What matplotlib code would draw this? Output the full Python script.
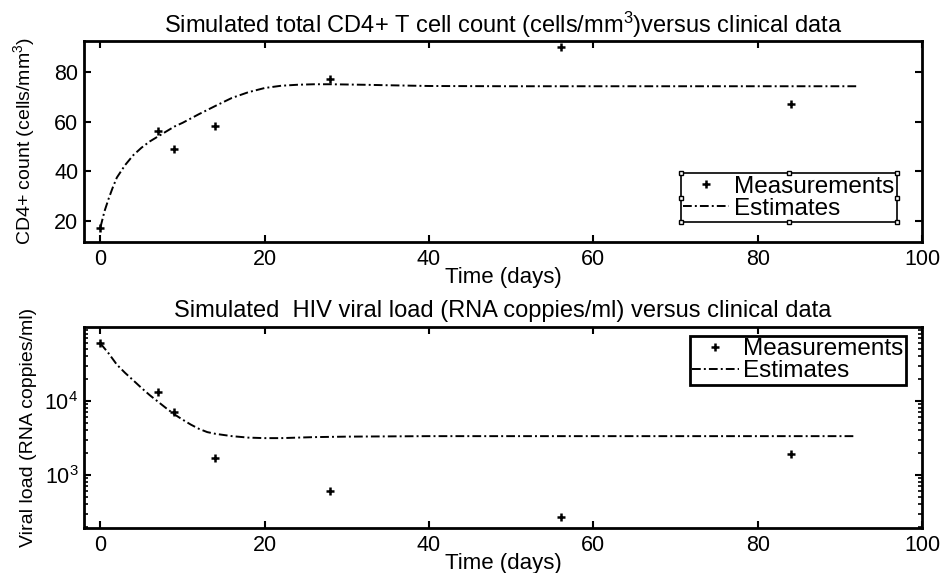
import numpy as np
import matplotlib
matplotlib.use('Agg')
import matplotlib.pyplot as plt
from matplotlib.lines import Line2D

# clinical measurements
meas_days = [0, 7, 9, 14, 28, 56, 84]
cd4_meas = [17.1, 56.4, 48.9, 58.4, 77.2, 89.9, 66.9]
vl_meas = [6.0e4, 1.31e4, 7.0e3, 1.71e3, 602, 268, 1.9e3]

# simulated estimates
cd4_days = [0, 0.5, 1, 1.5, 2, 3, 4, 5, 6, 7, 8, 9, 10, 12, 14, 16, 18, 20,
            22, 24, 26, 28, 30, 32, 35, 40, 50, 60, 70, 80, 92]
cd4_est = [17.5, 24, 29, 33.5, 37.5, 42.5, 46.5, 49.5, 52, 54, 56, 58, 59.5,
           63, 66.3, 69.5, 71.8, 73.5, 74.4, 74.8, 75, 75, 74.9, 74.8, 74.6,
           74.3, 74.2, 74.2, 74.2, 74.2, 74.2]
vl_days = [0, 1, 2, 3, 4, 5, 6, 7, 8, 9, 10, 11, 12, 13, 14, 16, 18, 20, 22,
           24, 26, 30, 40, 60, 80, 92]
vl_est = [6.0e4, 4.4e4, 3.1e4, 2.4e4, 1.9e4, 1.5e4, 1.2e4, 9.8e3, 8.0e3,
          6.6e3, 5.6e3, 4.8e3, 4.2e3, 3.8e3, 3.6e3, 3.35e3, 3.2e3, 3.15e3,
          3.15e3, 3.2e3, 3.25e3, 3.3e3, 3.35e3, 3.35e3, 3.35e3, 3.35e3]

xticks = [0, 20, 40, 60, 80, 100]

plt.rcParams.update({
    'font.family': ['Liberation Sans', 'DejaVu Sans'],
    'mathtext.fontset': 'custom',
    'mathtext.rm': 'Liberation Sans',
    'mathtext.it': 'Liberation Sans',
    'mathtext.bf': 'Liberation Sans',
    'axes.linewidth': 2,
})

fig = plt.figure(figsize=(9.47, 5.73), dpi=100)
ax1 = fig.add_axes([0.0887, 0.5777, 0.8849, 0.3508])
ax2 = fig.add_axes([0.0887, 0.0785, 0.8849, 0.3508])

line_kw = dict(color='black', linewidth=1.4, dashes=(4.5, 1.6, 1, 1.6))
mark_kw = dict(color='black', linestyle='none', marker='+', markersize=6,
               markeredgewidth=1.8)

ax1.plot(meas_days, cd4_meas, label='Measurements', **mark_kw)
ax1.plot(cd4_days, cd4_est, label='Estimates', **line_kw)
ax2.semilogy(meas_days, vl_meas, label='Measurements', **mark_kw)
ax2.semilogy(vl_days, vl_est, label='Estimates', **line_kw)

ax1.set_xlim(-2, 100)
ax1.set_ylim(11.6, 92.4)
ax1.set_yticks([20, 40, 60, 80])
ax2.set_xlim(-2, 100)
ax2.set_ylim(192, 1e5)
ax2.set_yticks([1e3, 1e4])

for ax in (ax1, ax2):
    ax.set_xticks(xticks)
    ax.tick_params(which='major', direction='in', top=True, right=True,
                   length=5, width=1.5, labelsize=15.5)
    ax.tick_params(which='minor', direction='in', top=True, right=True,
                   length=3, width=1.2)
    ax.tick_params(axis='x', pad=5)
    ax.tick_params(axis='y', pad=4)
    ax.set_xlabel('Time (days)', fontsize=16, labelpad=-2)
    ax.yaxis.set_label_coords(-0.056, 0.5)
ax1.minorticks_off()

ax1.set_title(r'Simulated total CD4+ T cell count (cells/mm$\mathregular{^3}$)versus clinical data',
              fontsize=17, pad=6)
ax2.set_title('Simulated  HIV viral load (RNA coppies/ml) versus clinical data',
              fontsize=17, pad=7)
ax1.set_ylabel(r'CD4+ count (cells/mm$\mathregular{^3}$)', fontsize=14)
ax2.set_ylabel('Viral load (RNA coppies/ml)', fontsize=14)

leg_kw = dict(fontsize=17.5, numpoints=1, handlelength=1.9, handletextpad=0.2,
              labelspacing=0.0, borderpad=0.1, borderaxespad=0,
              fancybox=False, framealpha=1, edgecolor='black')
leg1 = ax1.legend(loc='lower right', bbox_to_anchor=(0.970, 0.0995), **leg_kw)
leg1.get_frame().set_linewidth(1.2)
leg2 = ax2.legend(loc='upper right', bbox_to_anchor=(0.981, 0.957), **leg_kw)
leg2.get_frame().set_linewidth(2)

# selection handles around the first legend box
fig.canvas.draw()
bb = leg1.get_frame().get_window_extent().transformed(fig.transFigure.inverted())
xs = [bb.x0, (bb.x0 + bb.x1) / 2, bb.x1]
ys = [bb.y0, (bb.y0 + bb.y1) / 2, bb.y1]
for xh in xs:
    for yh in ys:
        if xh == xs[1] and yh == ys[1]:
            continue
        fig.add_artist(Line2D([xh], [yh], transform=fig.transFigure,
                              marker='s', markersize=3.5, markerfacecolor='white',
                              markeredgecolor='black', markeredgewidth=1))

fig.savefig('out.png', dpi=100)
